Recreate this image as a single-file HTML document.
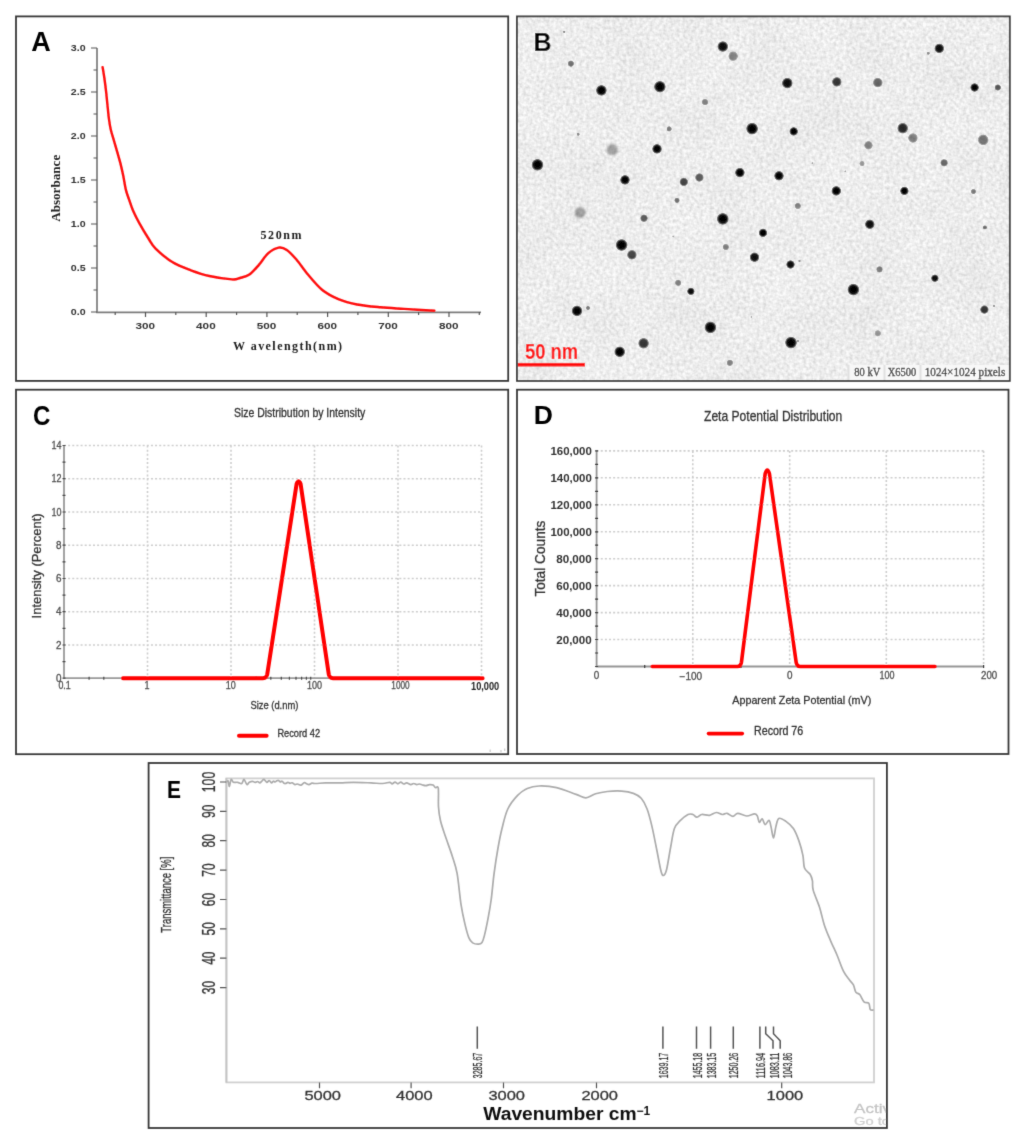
<!DOCTYPE html>
<html><head><meta charset="utf-8"><title>Figure</title>
<style>
html,body{margin:0;padding:0;background:#fff;width:1025px;height:1137px;overflow:hidden}
svg{display:block}
</style></head><body>
<svg width="1025" height="1137" viewBox="0 0 1025 1137" font-family="'Liberation Sans',sans-serif">
<defs><filter id="gb" x="0" y="0" width="1025" height="1137" filterUnits="userSpaceOnUse"><feConvolveMatrix order="3" kernelMatrix="0.0114 0.0845 0.0114 0.0845 0.6164 0.0845 0.0114 0.0845 0.0114" edgeMode="duplicate" preserveAlpha="false"/></filter></defs>
<rect width="1025" height="1137" fill="#fff"/>
<g filter="url(#gb)">
<text x="31.3" y="51" font-size="27" fill="#000" text-anchor="start" font-weight="bold" font-family='"Liberation Sans",sans-serif' >A</text>
<path d="M97,48 V312.3 H481" fill="none" stroke="#7c7c7c" stroke-width="1.7"/>
<path d="M91,48 H97 M91,92 H97 M91,136 H97 M91,180 H97 M91,224 H97 M91,268 H97 M91,312 H97 M93.5,70 H97 M93.5,114 H97 M93.5,158 H97 M93.5,202 H97 M93.5,246 H97 M93.5,290 H97 M145.5,312 V317 M206.2,312 V317 M266.9,312 V317 M327.6,312 V317 M388.3,312 V317 M449.0,312 V317 M115.2,312 V315 M175.8,312 V315 M236.6,312 V315 M297.2,312 V315 M357.9,312 V315 M418.6,312 V315 M479.3,312 V315 " stroke="#555" stroke-width="1.2"/>
<text x="85.6" y="51.4" font-size="9.2" fill="#333" text-anchor="end" font-weight="bold" textLength="14.8" lengthAdjust="spacingAndGlyphs" font-family='"Liberation Sans",sans-serif' >3.0</text>
<text x="85.6" y="95.4" font-size="9.2" fill="#333" text-anchor="end" font-weight="bold" textLength="14.8" lengthAdjust="spacingAndGlyphs" font-family='"Liberation Sans",sans-serif' >2.5</text>
<text x="85.6" y="139.4" font-size="9.2" fill="#333" text-anchor="end" font-weight="bold" textLength="14.8" lengthAdjust="spacingAndGlyphs" font-family='"Liberation Sans",sans-serif' >2.0</text>
<text x="85.6" y="183.4" font-size="9.2" fill="#333" text-anchor="end" font-weight="bold" textLength="14.8" lengthAdjust="spacingAndGlyphs" font-family='"Liberation Sans",sans-serif' >1.5</text>
<text x="85.6" y="227.4" font-size="9.2" fill="#333" text-anchor="end" font-weight="bold" textLength="14.8" lengthAdjust="spacingAndGlyphs" font-family='"Liberation Sans",sans-serif' >1.0</text>
<text x="85.6" y="271.4" font-size="9.2" fill="#333" text-anchor="end" font-weight="bold" textLength="14.8" lengthAdjust="spacingAndGlyphs" font-family='"Liberation Sans",sans-serif' >0.5</text>
<text x="85.6" y="315.4" font-size="9.2" fill="#333" text-anchor="end" font-weight="bold" textLength="14.8" lengthAdjust="spacingAndGlyphs" font-family='"Liberation Sans",sans-serif' >0.0</text>
<text x="145.2" y="328.9" font-size="9.6" fill="#333" text-anchor="middle" font-weight="bold" textLength="19.6" lengthAdjust="spacingAndGlyphs" font-family='"Liberation Sans",sans-serif' >300</text>
<text x="205.89999999999998" y="328.9" font-size="9.6" fill="#333" text-anchor="middle" font-weight="bold" textLength="19.6" lengthAdjust="spacingAndGlyphs" font-family='"Liberation Sans",sans-serif' >400</text>
<text x="266.59999999999997" y="328.9" font-size="9.6" fill="#333" text-anchor="middle" font-weight="bold" textLength="19.6" lengthAdjust="spacingAndGlyphs" font-family='"Liberation Sans",sans-serif' >500</text>
<text x="327.3" y="328.9" font-size="9.6" fill="#333" text-anchor="middle" font-weight="bold" textLength="19.6" lengthAdjust="spacingAndGlyphs" font-family='"Liberation Sans",sans-serif' >600</text>
<text x="387.99999999999994" y="328.9" font-size="9.6" fill="#333" text-anchor="middle" font-weight="bold" textLength="19.6" lengthAdjust="spacingAndGlyphs" font-family='"Liberation Sans",sans-serif' >700</text>
<text x="448.7" y="328.9" font-size="9.6" fill="#333" text-anchor="middle" font-weight="bold" textLength="19.6" lengthAdjust="spacingAndGlyphs" font-family='"Liberation Sans",sans-serif' >800</text>
<text x="233" y="349.8" font-size="12" fill="#222" text-anchor="start" font-weight="bold" letter-spacing="1.45" font-family='"Liberation Serif",serif' >W avelength(nm)</text>
<text x="60.5" y="221.8" font-size="13" fill="#222" text-anchor="start" font-weight="bold" textLength="67" lengthAdjust="spacingAndGlyphs" transform="rotate(-90 60.5 221.8)" font-family='"Liberation Serif",serif' >Absorbance</text>
<text x="260.5" y="239.2" font-size="12" fill="#222" text-anchor="start" font-weight="bold" letter-spacing="1.6" font-family='"Liberation Serif",serif' >520nm</text>
<path d="M102.60,67.10 C102.92,69.08 103.92,74.90 104.50,79.00 C105.08,83.10 105.62,87.48 106.10,91.70 C106.58,95.92 106.93,99.82 107.40,104.30 C107.87,108.78 108.33,114.37 108.90,118.60 C109.47,122.83 109.95,126.00 110.80,129.70 C111.65,133.40 112.93,137.10 114.00,140.80 C115.07,144.50 116.15,148.22 117.20,151.90 C118.25,155.58 119.30,158.95 120.30,162.90 C121.30,166.85 122.27,171.10 123.20,175.60 C124.13,180.10 124.93,185.93 125.90,189.90 C126.87,193.87 127.82,195.97 129.00,199.40 C130.18,202.83 131.28,206.55 133.00,210.50 C134.72,214.45 136.67,218.35 139.30,223.10 C141.93,227.85 146.08,234.75 148.80,239.00 C151.52,243.25 151.62,244.72 155.60,248.60 C159.58,252.48 166.80,258.68 172.70,262.30 C178.60,265.92 184.90,268.02 191.00,270.30 C197.10,272.58 202.47,274.48 209.30,276.00 C216.13,277.52 226.88,279.07 232.00,279.40 C237.12,279.73 237.10,278.82 240.00,278.00 C242.90,277.18 246.28,276.65 249.40,274.50 C252.52,272.35 255.58,268.62 258.70,265.10 C261.82,261.58 264.78,256.32 268.10,253.40 C271.42,250.48 275.48,248.18 278.60,247.60 C281.72,247.02 283.87,247.95 286.80,249.90 C289.73,251.85 292.68,255.20 296.20,259.30 C299.72,263.40 303.60,269.43 307.90,274.50 C312.20,279.57 316.92,285.60 322.00,289.70 C327.08,293.80 332.55,296.63 338.40,299.10 C344.25,301.57 350.08,303.13 357.10,304.50 C364.12,305.87 372.68,306.57 380.50,307.30 C388.32,308.03 395.02,308.32 404.00,308.90 C412.98,309.48 429.33,310.48 434.40,310.80" fill="none" stroke="#ff0a0a" stroke-width="2.4" stroke-linejoin="round" stroke-linecap="round"/>
<rect x="16" y="16.4" width="492.2" height="364.5" fill="none" stroke="#383838" stroke-width="1.8"/>
<defs><filter id="nz" x="0" y="0" width="100%" height="100%"><feTurbulence type="fractalNoise" baseFrequency="0.3" numOctaves="2" seed="3"/><feColorMatrix type="matrix" values="0.5 0 0 0 0.623  0.5 0 0 0 0.623  0.5 0 0 0 0.623  0 0 0 0 1"/></filter>
<filter id="nz2" x="0" y="0" width="100%" height="100%"><feTurbulence type="fractalNoise" baseFrequency="0.02" numOctaves="2" seed="7"/><feColorMatrix type="matrix" values="1 0 0 0 0  1 0 0 0 0  1 0 0 0 0  0 0 0 0 1"/></filter>
<filter id="bl" x="-20%" y="-20%" width="140%" height="140%"><feGaussianBlur stdDeviation="0.5"/></filter>
<radialGradient id="dg"><stop offset="0" stop-color="#000" stop-opacity="1"/><stop offset="0.65" stop-color="#050505" stop-opacity="0.96"/><stop offset="0.88" stop-color="#111" stop-opacity="0.6"/><stop offset="1" stop-color="#222" stop-opacity="0"/></radialGradient>
</defs>
<rect x="517" y="17" width="492" height="363" filter="url(#nz)"/>
<rect x="517" y="17" width="492" height="363" filter="url(#nz2)" opacity="0.06"/>
<filter id="bl2" x="-50%" y="-50%" width="200%" height="200%"><feGaussianBlur stdDeviation="1.1"/></filter>
<g filter="url(#bl)">
<circle cx="564.3" cy="31.9" r="1.34" fill="url(#dg)" opacity="0.47"/>
<circle cx="570.9" cy="63.6" r="3.36" fill="url(#dg)" opacity="0.53"/>
<circle cx="601.4" cy="90.4" r="5.60" fill="url(#dg)" opacity="1.00"/>
<circle cx="659.9" cy="86.7" r="6.05" fill="url(#dg)" opacity="1.00"/>
<circle cx="722.8" cy="46.5" r="5.60" fill="url(#dg)" opacity="0.95"/>
<circle cx="733.1" cy="56.2" r="5.04" fill="url(#dg)" opacity="0.47"/>
<circle cx="705" cy="102.1" r="3.36" fill="url(#dg)" opacity="0.47"/>
<circle cx="669.2" cy="128.9" r="2.80" fill="url(#dg)" opacity="0.47"/>
<circle cx="578.2" cy="134.3" r="1.68" fill="url(#dg)" opacity="0.42"/>
<circle cx="612.3" cy="149.7" r="5.60" fill="#000" opacity="0.33" filter="url(#bl2)"/>
<circle cx="657" cy="148.9" r="5.04" fill="url(#dg)" opacity="1.00"/>
<circle cx="752.1" cy="128.7" r="6.16" fill="url(#dg)" opacity="1.00"/>
<circle cx="537.5" cy="164.8" r="6.16" fill="url(#dg)" opacity="1.00"/>
<circle cx="625" cy="179.9" r="5.04" fill="url(#dg)" opacity="1.00"/>
<circle cx="683.8" cy="181.9" r="4.48" fill="url(#dg)" opacity="0.73"/>
<circle cx="699.4" cy="177.5" r="4.48" fill="url(#dg)" opacity="0.63"/>
<circle cx="739.9" cy="172.6" r="5.04" fill="url(#dg)" opacity="1.00"/>
<circle cx="939.3" cy="48.4" r="5.04" fill="url(#dg)" opacity="0.95"/>
<circle cx="928.3" cy="53.3" r="1.68" fill="url(#dg)" opacity="0.42"/>
<circle cx="787.3" cy="83.1" r="5.60" fill="url(#dg)" opacity="0.95"/>
<circle cx="836.8" cy="81.9" r="5.04" fill="url(#dg)" opacity="0.79"/>
<circle cx="877.8" cy="82.6" r="5.04" fill="url(#dg)" opacity="0.58"/>
<circle cx="974.6" cy="87.5" r="4.48" fill="url(#dg)" opacity="1.00"/>
<circle cx="997.8" cy="87.5" r="3.36" fill="url(#dg)" opacity="0.63"/>
<circle cx="793.7" cy="131.4" r="4.48" fill="url(#dg)" opacity="1.00"/>
<circle cx="902.7" cy="128.2" r="5.60" fill="url(#dg)" opacity="0.84"/>
<circle cx="912.9" cy="138" r="5.04" fill="url(#dg)" opacity="0.47"/>
<circle cx="983.2" cy="139.9" r="5.60" fill="url(#dg)" opacity="0.53"/>
<circle cx="868.5" cy="145.3" r="4.48" fill="url(#dg)" opacity="0.47"/>
<circle cx="862" cy="163.6" r="2.80" fill="url(#dg)" opacity="0.37"/>
<circle cx="944.1" cy="162.8" r="3.92" fill="url(#dg)" opacity="0.58"/>
<circle cx="812.4" cy="163.1" r="1.12" fill="url(#dg)" opacity="0.32"/>
<circle cx="845.4" cy="171.4" r="1.12" fill="url(#dg)" opacity="0.32"/>
<circle cx="779" cy="175.8" r="5.04" fill="url(#dg)" opacity="1.00"/>
<circle cx="836.3" cy="190.9" r="5.04" fill="url(#dg)" opacity="1.00"/>
<circle cx="904.4" cy="190.9" r="4.48" fill="url(#dg)" opacity="1.00"/>
<circle cx="973.4" cy="191.6" r="2.80" fill="url(#dg)" opacity="0.47"/>
<circle cx="677" cy="200.4" r="2.80" fill="url(#dg)" opacity="0.53"/>
<circle cx="580.1" cy="212.6" r="5.60" fill="#000" opacity="0.33" filter="url(#bl2)"/>
<circle cx="644" cy="218.2" r="3.92" fill="url(#dg)" opacity="0.63"/>
<circle cx="722.8" cy="218.9" r="6.16" fill="url(#dg)" opacity="1.00"/>
<circle cx="763" cy="232.8" r="4.48" fill="url(#dg)" opacity="1.00"/>
<circle cx="621.6" cy="245" r="6.16" fill="url(#dg)" opacity="1.00"/>
<circle cx="631.9" cy="254.8" r="5.04" fill="url(#dg)" opacity="0.73"/>
<circle cx="673.3" cy="236.5" r="1.12" fill="url(#dg)" opacity="0.32"/>
<circle cx="725.8" cy="247" r="3.36" fill="url(#dg)" opacity="0.47"/>
<circle cx="754.5" cy="257.2" r="5.04" fill="url(#dg)" opacity="0.95"/>
<circle cx="678.2" cy="282.8" r="3.36" fill="url(#dg)" opacity="0.47"/>
<circle cx="690.9" cy="291.3" r="3.92" fill="url(#dg)" opacity="0.95"/>
<circle cx="577" cy="310.9" r="5.60" fill="url(#dg)" opacity="1.00"/>
<circle cx="588" cy="308" r="2.24" fill="url(#dg)" opacity="0.47"/>
<circle cx="710.4" cy="327.4" r="6.16" fill="url(#dg)" opacity="1.00"/>
<circle cx="751.4" cy="317" r="1.12" fill="url(#dg)" opacity="0.32"/>
<circle cx="643.6" cy="343.3" r="5.60" fill="url(#dg)" opacity="0.79"/>
<circle cx="619.7" cy="351.8" r="5.60" fill="url(#dg)" opacity="1.00"/>
<circle cx="729.9" cy="362.8" r="3.36" fill="url(#dg)" opacity="0.47"/>
<circle cx="797.8" cy="206" r="3.36" fill="url(#dg)" opacity="0.47"/>
<circle cx="869.8" cy="224.3" r="5.04" fill="url(#dg)" opacity="0.95"/>
<circle cx="984.9" cy="227.4" r="2.24" fill="url(#dg)" opacity="0.53"/>
<circle cx="790.5" cy="264.5" r="4.48" fill="url(#dg)" opacity="0.95"/>
<circle cx="799.5" cy="260.9" r="1.34" fill="url(#dg)" opacity="0.37"/>
<circle cx="879.5" cy="269.4" r="3.36" fill="url(#dg)" opacity="0.47"/>
<circle cx="934.9" cy="278.2" r="3.92" fill="url(#dg)" opacity="0.95"/>
<circle cx="853.4" cy="289.6" r="6.16" fill="url(#dg)" opacity="1.00"/>
<circle cx="984.4" cy="309.6" r="4.48" fill="url(#dg)" opacity="0.79"/>
<circle cx="994.1" cy="306" r="1.34" fill="url(#dg)" opacity="0.37"/>
<circle cx="877.8" cy="333.3" r="3.36" fill="url(#dg)" opacity="0.37"/>
<circle cx="791" cy="342.6" r="6.16" fill="url(#dg)" opacity="1.00"/>
<circle cx="797.8" cy="340.9" r="1.34" fill="url(#dg)" opacity="0.37"/>
</g>
<text x="533.5" y="50.7" font-size="25" fill="#000" text-anchor="start" font-weight="bold" font-family='"Liberation Sans",sans-serif' >B</text>
<rect x="518" y="362.9" width="67" height="3.6" fill="#ff1010"/>
<text x="525" y="358.6" font-size="21.5" fill="#ff1010" text-anchor="start" font-weight="bold" textLength="53.2" lengthAdjust="spacingAndGlyphs" font-family='"Liberation Sans",sans-serif' >50 nm</text>
<rect x="848" y="365" width="161" height="15" fill="#f8f8f8"/>
<path d="M848.5,365 V380 M884.5,365 V380 M920.5,365 V380" stroke="#e0e0e0" stroke-width="2"/>
<text x="854.3" y="376" font-size="11.8" fill="#444" text-anchor="start" textLength="26" lengthAdjust="spacingAndGlyphs" font-family='"Liberation Serif",serif' stroke="#444" stroke-width="0.35">80 kV</text>
<text x="887.8" y="376" font-size="11.8" fill="#444" text-anchor="start" textLength="28.5" lengthAdjust="spacingAndGlyphs" font-family='"Liberation Serif",serif' stroke="#444" stroke-width="0.35">X6500</text>
<text x="924.7" y="376" font-size="11.8" fill="#444" text-anchor="start" textLength="80.6" lengthAdjust="spacingAndGlyphs" font-family='"Liberation Serif",serif' stroke="#444" stroke-width="0.35">1024×1024 pixels</text>
<rect x="517" y="16.4" width="492.79999999999995" height="364.5" fill="none" stroke="#383838" stroke-width="1.8"/>
<text x="33.1" y="425" font-size="28" fill="#000" text-anchor="start" font-weight="bold" textLength="17.4" lengthAdjust="spacingAndGlyphs" font-family='"Liberation Sans",sans-serif' >C</text>
<text x="234" y="417.2" font-size="12" fill="#333" text-anchor="start" textLength="131.3" lengthAdjust="spacingAndGlyphs" stroke="#333" stroke-width="0.3" font-family='"Liberation Sans",sans-serif' >Size Distribution by Intensity</text>
<path d="M64,645.0 H481.8 M64,611.7 H481.8 M64,578.5 H481.8 M64,545.2 H481.8 M64,512.0 H481.8 M64,478.7 H481.8 M64,445.5 H481.8 M147.5,445.5 V678.2 M231.0,445.5 V678.2 M314.5,445.5 V678.2 M398.0,445.5 V678.2 M481.5,445.5 V678.2 " stroke="#cdcdcd" stroke-width="1.6" stroke-dasharray="2 2.14"/>
<path d="M64,445.5 V678.2 H482" fill="none" stroke="#9a9a9a" stroke-width="1.8"/>
<path d="M62.5,678.2 H65.5 M62.5,661.6 H65.5 M62.5,645.0 H65.5 M62.5,628.3 H65.5 M62.5,611.7 H65.5 M62.5,595.1 H65.5 M62.5,578.5 H65.5 M62.5,561.9 H65.5 M62.5,545.2 H65.5 M62.5,528.6 H65.5 M62.5,512.0 H65.5 M62.5,495.4 H65.5 M62.5,478.7 H65.5 M62.5,462.1 H65.5 M62.5,445.5 H65.5 M89.1,676.7 V679.7 M103.8,676.7 V679.7 M256.1,676.7 V679.7 M270.8,676.7 V679.7 M281.3,676.7 V679.7 M289.4,676.7 V679.7 M296.0,676.7 V679.7 M301.6,676.7 V679.7 M306.4,676.7 V679.7 M310.7,676.7 V679.7 " stroke="#444" stroke-width="1.2"/>
<text x="61.5" y="681.8000000000001" font-size="10" fill="#505050" text-anchor="end" textLength="5.5" lengthAdjust="spacingAndGlyphs" stroke="#505050" stroke-width="0.3" font-family='"Liberation Sans",sans-serif' >0</text>
<text x="61.5" y="648.5571428571429" font-size="10" fill="#505050" text-anchor="end" textLength="5.5" lengthAdjust="spacingAndGlyphs" stroke="#505050" stroke-width="0.3" font-family='"Liberation Sans",sans-serif' >2</text>
<text x="61.5" y="615.3142857142858" font-size="10" fill="#505050" text-anchor="end" textLength="5.5" lengthAdjust="spacingAndGlyphs" stroke="#505050" stroke-width="0.3" font-family='"Liberation Sans",sans-serif' >4</text>
<text x="61.5" y="582.0714285714287" font-size="10" fill="#505050" text-anchor="end" textLength="5.5" lengthAdjust="spacingAndGlyphs" stroke="#505050" stroke-width="0.3" font-family='"Liberation Sans",sans-serif' >6</text>
<text x="61.5" y="548.8285714285715" font-size="10" fill="#505050" text-anchor="end" textLength="5.5" lengthAdjust="spacingAndGlyphs" stroke="#505050" stroke-width="0.3" font-family='"Liberation Sans",sans-serif' >8</text>
<text x="61.5" y="515.5857142857143" font-size="10" fill="#505050" text-anchor="end" textLength="10" lengthAdjust="spacingAndGlyphs" stroke="#505050" stroke-width="0.3" font-family='"Liberation Sans",sans-serif' >10</text>
<text x="61.5" y="482.34285714285716" font-size="10" fill="#505050" text-anchor="end" textLength="10" lengthAdjust="spacingAndGlyphs" stroke="#505050" stroke-width="0.3" font-family='"Liberation Sans",sans-serif' >12</text>
<text x="61.5" y="449.1" font-size="10" fill="#505050" text-anchor="end" textLength="10" lengthAdjust="spacingAndGlyphs" stroke="#505050" stroke-width="0.3" font-family='"Liberation Sans",sans-serif' >14</text>
<text x="64.6" y="688.9" font-size="10" fill="#505050" text-anchor="middle" textLength="12.3" lengthAdjust="spacingAndGlyphs" stroke="#505050" stroke-width="0.3" font-family='"Liberation Sans",sans-serif' >0.1</text>
<text x="147" y="688.9" font-size="10" fill="#505050" text-anchor="middle" textLength="5" lengthAdjust="spacingAndGlyphs" stroke="#505050" stroke-width="0.3" font-family='"Liberation Sans",sans-serif' >1</text>
<text x="230.8" y="688.9" font-size="10" fill="#505050" text-anchor="middle" textLength="10" lengthAdjust="spacingAndGlyphs" stroke="#505050" stroke-width="0.3" font-family='"Liberation Sans",sans-serif' >10</text>
<text x="314.4" y="688.9" font-size="10" fill="#505050" text-anchor="middle" textLength="15" lengthAdjust="spacingAndGlyphs" stroke="#505050" stroke-width="0.3" font-family='"Liberation Sans",sans-serif' >100</text>
<text x="400.5" y="688.9" font-size="10" fill="#505050" text-anchor="middle" textLength="18.3" lengthAdjust="spacingAndGlyphs" stroke="#505050" stroke-width="0.3" font-family='"Liberation Sans",sans-serif' >1000</text>
<text x="471" y="689.5" font-size="10" fill="#222" text-anchor="start" font-weight="bold" textLength="28.2" lengthAdjust="spacingAndGlyphs" font-family='"Liberation Sans",sans-serif' >10,000</text>
<path d="M123,678.2 H263 Q266.5,678.2 267.2,674.5 L296.6,484 Q298.6,478.6 300.6,484 L328.8,674.5 Q329.5,678.2 333,678.2 H482.6" fill="none" stroke="#ff0000" stroke-width="4" stroke-linejoin="round" stroke-linecap="round"/>
<text x="250.4" y="708.7" font-size="10.5" fill="#333" text-anchor="start" textLength="48" lengthAdjust="spacingAndGlyphs" stroke="#333" stroke-width="0.3" font-family='"Liberation Sans",sans-serif' >Size (d.nm)</text>
<text x="41" y="618.4" font-size="12.5" fill="#333" text-anchor="start" textLength="105" lengthAdjust="spacingAndGlyphs" transform="rotate(-90 41 618.4)" stroke="#333" stroke-width="0.3" font-family='"Liberation Sans",sans-serif' >Intensity (Percent)</text>
<path d="M239,735.7 H266.6" stroke="#ff0000" stroke-width="4" stroke-linecap="round"/>
<text x="277.4" y="736.8" font-size="10.5" fill="#333" text-anchor="start" textLength="42.7" lengthAdjust="spacingAndGlyphs" stroke="#333" stroke-width="0.3" font-family='"Liberation Sans",sans-serif' >Record 42</text>
<path d="M490.2,749.5 V752 M501,750 V752.5 M504.7,748.5 V751" stroke="#cfcfcf" stroke-width="1.3"/>
<rect x="16" y="389.7" width="492.2" height="364.50000000000006" fill="none" stroke="#383838" stroke-width="1.8"/>
<text x="533.8" y="423.6" font-size="26.5" fill="#000" text-anchor="start" font-weight="bold" font-family='"Liberation Sans",sans-serif' >D</text>
<text x="704" y="421.1" font-size="14.5" fill="#333" text-anchor="start" textLength="138.3" lengthAdjust="spacingAndGlyphs" stroke="#333" stroke-width="0.3" font-family='"Liberation Sans",sans-serif' >Zeta Potential Distribution</text>
<path d="M596.6,639.5 H983.6 M596.6,612.6 H983.6 M596.6,585.6 H983.6 M596.6,558.7 H983.6 M596.6,531.8 H983.6 M596.6,504.8 H983.6 M596.6,477.8 H983.6 M596.6,450.9 H983.6 M692.8,450.9 V666.5 M789.7,450.9 V666.5 M886.3,450.9 V666.5 M983.6,450.9 V666.5 " stroke="#cdcdcd" stroke-width="1.6" stroke-dasharray="2 2.14"/>
<path d="M596.6,450.9 V666.5 H983.6" fill="none" stroke="#959595" stroke-width="1.8"/>
<path d="M595.1,666.5 H598.1 M595.1,653.0 H598.1 M595.1,639.5 H598.1 M595.1,626.1 H598.1 M595.1,612.6 H598.1 M595.1,599.1 H598.1 M595.1,585.6 H598.1 M595.1,572.2 H598.1 M595.1,558.7 H598.1 M595.1,545.2 H598.1 M595.1,531.8 H598.1 M595.1,518.3 H598.1 M595.1,504.8 H598.1 M595.1,491.3 H598.1 M595.1,477.8 H598.1 M595.1,464.4 H598.1 M595.1,450.9 H598.1 M644.7,665.0 V668.0 M741,665.0 V668.0 M838,665.0 V668.0 M935,665.0 V668.0 M983.6,665.0 V668.0 " stroke="#333" stroke-width="1.2"/>
<text x="591.8" y="643.55" font-size="11.5" fill="#333" text-anchor="end" font-weight="bold" textLength="35.6" lengthAdjust="spacingAndGlyphs" font-family='"Liberation Sans",sans-serif' >20,000</text>
<text x="591.8" y="616.6" font-size="11.5" fill="#333" text-anchor="end" font-weight="bold" textLength="35.6" lengthAdjust="spacingAndGlyphs" font-family='"Liberation Sans",sans-serif' >40,000</text>
<text x="591.8" y="589.65" font-size="11.5" fill="#333" text-anchor="end" font-weight="bold" textLength="35.6" lengthAdjust="spacingAndGlyphs" font-family='"Liberation Sans",sans-serif' >60,000</text>
<text x="591.8" y="562.7" font-size="11.5" fill="#333" text-anchor="end" font-weight="bold" textLength="35.6" lengthAdjust="spacingAndGlyphs" font-family='"Liberation Sans",sans-serif' >80,000</text>
<text x="591.8" y="535.75" font-size="11.5" fill="#333" text-anchor="end" font-weight="bold" textLength="41.4" lengthAdjust="spacingAndGlyphs" font-family='"Liberation Sans",sans-serif' >100,000</text>
<text x="591.8" y="508.79999999999995" font-size="11.5" fill="#333" text-anchor="end" font-weight="bold" textLength="41.4" lengthAdjust="spacingAndGlyphs" font-family='"Liberation Sans",sans-serif' >120,000</text>
<text x="591.8" y="481.84999999999997" font-size="11.5" fill="#333" text-anchor="end" font-weight="bold" textLength="41.4" lengthAdjust="spacingAndGlyphs" font-family='"Liberation Sans",sans-serif' >140,000</text>
<text x="591.8" y="454.9" font-size="11.5" fill="#333" text-anchor="end" font-weight="bold" textLength="41.4" lengthAdjust="spacingAndGlyphs" font-family='"Liberation Sans",sans-serif' >160,000</text>
<text x="596.6" y="679" font-size="10" fill="#505050" text-anchor="middle" textLength="5.5" lengthAdjust="spacingAndGlyphs" stroke="#505050" stroke-width="0.3" font-family='"Liberation Sans",sans-serif' >0</text>
<text x="690.8" y="680" font-size="10" fill="#505050" text-anchor="middle" textLength="22.5" lengthAdjust="spacingAndGlyphs" stroke="#505050" stroke-width="0.3" font-family='"Liberation Sans",sans-serif' >−100</text>
<text x="789.7" y="679.3" font-size="10" fill="#505050" text-anchor="middle" textLength="5.5" lengthAdjust="spacingAndGlyphs" stroke="#505050" stroke-width="0.3" font-family='"Liberation Sans",sans-serif' >0</text>
<text x="886.9" y="679.3" font-size="10" fill="#505050" text-anchor="middle" textLength="15" lengthAdjust="spacingAndGlyphs" stroke="#505050" stroke-width="0.3" font-family='"Liberation Sans",sans-serif' >100</text>
<text x="981" y="679.3" font-size="10" fill="#505050" text-anchor="start" textLength="16.2" lengthAdjust="spacingAndGlyphs" stroke="#505050" stroke-width="0.3" font-family='"Liberation Sans",sans-serif' >200</text>
<path d="M652.2,666.5 H737.5 Q740.8,666.5 741.4,662.5 L765.2,473.5 Q767.3,466.5 769.4,473.5 L796.2,662.5 Q796.8,666.5 800,666.5 H935" fill="none" stroke="#ff0000" stroke-width="3.6" stroke-linejoin="round" stroke-linecap="round"/>
<text x="545.2" y="596.6" font-size="14.3" fill="#333" text-anchor="start" textLength="76" lengthAdjust="spacingAndGlyphs" transform="rotate(-90 545.2 596.6)" stroke="#333" stroke-width="0.3" font-family='"Liberation Sans",sans-serif' >Total Counts</text>
<text x="732.3" y="703.6" font-size="11.5" fill="#333" text-anchor="start" textLength="139" lengthAdjust="spacingAndGlyphs" stroke="#333" stroke-width="0.3" font-family='"Liberation Sans",sans-serif' >Apparent Zeta Potential (mV)</text>
<path d="M708.5,733.6 H742.3" stroke="#ff0000" stroke-width="3.6" stroke-linecap="round"/>
<text x="754" y="734.7" font-size="12" fill="#333" text-anchor="start" textLength="49.2" lengthAdjust="spacingAndGlyphs" stroke="#333" stroke-width="0.3" font-family='"Liberation Sans",sans-serif' >Record 76</text>
<rect x="517" y="389.7" width="491.5" height="364.3" fill="none" stroke="#383838" stroke-width="1.8"/>
<text x="167.1" y="797.5" font-size="24" fill="#000" text-anchor="start" font-weight="bold" textLength="14" lengthAdjust="spacingAndGlyphs" font-family='"Liberation Sans",sans-serif' >E</text>
<rect x="226.4" y="778.4" width="647.6" height="304" fill="none" stroke="#d0d0d0" stroke-width="1.8"/>
<path d="M226.4,778 V1082.4" stroke="#c4c4c4" stroke-width="1.8"/>
<path d="M220,782.0 H226.4 M220,811.4 H226.4 M220,840.7 H226.4 M220,870.1 H226.4 M220,899.5 H226.4 M220,928.9 H226.4 M220,958.2 H226.4 M220,987.6 H226.4 M319.5,1082.4 V1088.2 M411.1,1082.4 V1088.2 M503.5,1082.4 V1088.2 M596.5,1082.4 V1088.2 M781.7,1082.4 V1088.2 " stroke="#555" stroke-width="1.2"/>
<text x="215.2" y="782.0" font-size="18.5" fill="#333" text-anchor="middle" textLength="20.5" lengthAdjust="spacingAndGlyphs" transform="rotate(-90 215.2 782.0)" stroke="#333" stroke-width="0.3" font-family='"Liberation Sans",sans-serif' >100</text>
<text x="215.2" y="811.37" font-size="18.5" fill="#333" text-anchor="middle" textLength="13.3" lengthAdjust="spacingAndGlyphs" transform="rotate(-90 215.2 811.37)" stroke="#333" stroke-width="0.3" font-family='"Liberation Sans",sans-serif' >90</text>
<text x="215.2" y="840.74" font-size="18.5" fill="#333" text-anchor="middle" textLength="13.3" lengthAdjust="spacingAndGlyphs" transform="rotate(-90 215.2 840.74)" stroke="#333" stroke-width="0.3" font-family='"Liberation Sans",sans-serif' >80</text>
<text x="215.2" y="870.11" font-size="18.5" fill="#333" text-anchor="middle" textLength="13.3" lengthAdjust="spacingAndGlyphs" transform="rotate(-90 215.2 870.11)" stroke="#333" stroke-width="0.3" font-family='"Liberation Sans",sans-serif' >70</text>
<text x="215.2" y="899.48" font-size="18.5" fill="#333" text-anchor="middle" textLength="13.3" lengthAdjust="spacingAndGlyphs" transform="rotate(-90 215.2 899.48)" stroke="#333" stroke-width="0.3" font-family='"Liberation Sans",sans-serif' >60</text>
<text x="215.2" y="928.85" font-size="18.5" fill="#333" text-anchor="middle" textLength="13.3" lengthAdjust="spacingAndGlyphs" transform="rotate(-90 215.2 928.85)" stroke="#333" stroke-width="0.3" font-family='"Liberation Sans",sans-serif' >50</text>
<text x="215.2" y="958.22" font-size="18.5" fill="#333" text-anchor="middle" textLength="13.3" lengthAdjust="spacingAndGlyphs" transform="rotate(-90 215.2 958.22)" stroke="#333" stroke-width="0.3" font-family='"Liberation Sans",sans-serif' >40</text>
<text x="215.2" y="987.59" font-size="18.5" fill="#333" text-anchor="middle" textLength="13.3" lengthAdjust="spacingAndGlyphs" transform="rotate(-90 215.2 987.59)" stroke="#333" stroke-width="0.3" font-family='"Liberation Sans",sans-serif' >30</text>
<text x="322.7" y="1099.9" font-size="13.5" fill="#333" text-anchor="middle" textLength="36.6" lengthAdjust="spacingAndGlyphs" stroke="#333" stroke-width="0.3" font-family='"Liberation Sans",sans-serif' >5000</text>
<text x="414.3" y="1099.9" font-size="13.5" fill="#333" text-anchor="middle" textLength="36.6" lengthAdjust="spacingAndGlyphs" stroke="#333" stroke-width="0.3" font-family='"Liberation Sans",sans-serif' >4000</text>
<text x="506.7" y="1099.9" font-size="13.5" fill="#333" text-anchor="middle" textLength="36.6" lengthAdjust="spacingAndGlyphs" stroke="#333" stroke-width="0.3" font-family='"Liberation Sans",sans-serif' >3000</text>
<text x="599.7" y="1099.9" font-size="13.5" fill="#333" text-anchor="middle" textLength="36.6" lengthAdjust="spacingAndGlyphs" stroke="#333" stroke-width="0.3" font-family='"Liberation Sans",sans-serif' >2000</text>
<text x="784.9000000000001" y="1099.9" font-size="13.5" fill="#333" text-anchor="middle" textLength="36.6" lengthAdjust="spacingAndGlyphs" stroke="#333" stroke-width="0.3" font-family='"Liberation Sans",sans-serif' >1000</text>
<text x="170.6" y="932.7" font-size="14.8" fill="#333" text-anchor="start" textLength="76" lengthAdjust="spacingAndGlyphs" transform="rotate(-90 170.6 932.7)" stroke="#333" stroke-width="0.3" font-family='"Liberation Sans",sans-serif' >Transmittance [%]</text>
<text x="483.2" y="1120.3" font-size="18.9" fill="#111" text-anchor="start" font-weight="bold" textLength="153.5" lengthAdjust="spacingAndGlyphs" font-family='"Liberation Sans",sans-serif' >Wavenumber cm</text>
<text x="636.6" y="1114.6" font-size="12" fill="#111" text-anchor="start" font-weight="bold" textLength="13.6" lengthAdjust="spacingAndGlyphs" font-family='"Liberation Sans",sans-serif' >−1</text>
<path d="M477.3,1026.5 V1048.8 M662.9,1026.5 V1048.8 M696.5,1026.5 V1048.8 M710.6,1026.5 V1048.8 M733.3,1026.5 V1048.8 M759.9,1026.5 V1048.8 M765.7,1026.5 V1033.7 L773,1040.8 V1048.8 M773.5,1026.5 V1033.7 L780.2,1040.8 V1048.8" fill="none" stroke="#555" stroke-width="1.5"/>
<text x="482.4" y="1078.2" font-size="12.2" fill="#333" text-anchor="start" textLength="25.4" lengthAdjust="spacingAndGlyphs" transform="rotate(-90 482.4 1078.2)" stroke="#333" stroke-width="0.3" font-family='"Liberation Sans",sans-serif' >3285.67</text>
<text x="667.8" y="1078.2" font-size="12.2" fill="#333" text-anchor="start" textLength="25.4" lengthAdjust="spacingAndGlyphs" transform="rotate(-90 667.8 1078.2)" stroke="#333" stroke-width="0.3" font-family='"Liberation Sans",sans-serif' >1639.17</text>
<text x="702.1999999999999" y="1078.2" font-size="12.2" fill="#333" text-anchor="start" textLength="25.4" lengthAdjust="spacingAndGlyphs" transform="rotate(-90 702.1999999999999 1078.2)" stroke="#333" stroke-width="0.3" font-family='"Liberation Sans",sans-serif' >1455.18</text>
<text x="716.1999999999999" y="1078.2" font-size="12.2" fill="#333" text-anchor="start" textLength="25.4" lengthAdjust="spacingAndGlyphs" transform="rotate(-90 716.1999999999999 1078.2)" stroke="#333" stroke-width="0.3" font-family='"Liberation Sans",sans-serif' >1383.15</text>
<text x="738.1" y="1078.2" font-size="12.2" fill="#333" text-anchor="start" textLength="25.4" lengthAdjust="spacingAndGlyphs" transform="rotate(-90 738.1 1078.2)" stroke="#333" stroke-width="0.3" font-family='"Liberation Sans",sans-serif' >1250.26</text>
<text x="765.4" y="1078.2" font-size="12.2" fill="#333" text-anchor="start" textLength="25.4" lengthAdjust="spacingAndGlyphs" transform="rotate(-90 765.4 1078.2)" stroke="#333" stroke-width="0.3" font-family='"Liberation Sans",sans-serif' >1116.94</text>
<text x="778.6" y="1078.2" font-size="12.2" fill="#333" text-anchor="start" textLength="25.4" lengthAdjust="spacingAndGlyphs" transform="rotate(-90 778.6 1078.2)" stroke="#333" stroke-width="0.3" font-family='"Liberation Sans",sans-serif' >1083.11</text>
<text x="792.4" y="1078.2" font-size="12.2" fill="#333" text-anchor="start" textLength="25.4" lengthAdjust="spacingAndGlyphs" transform="rotate(-90 792.4 1078.2)" stroke="#333" stroke-width="0.3" font-family='"Liberation Sans",sans-serif' >1043.86</text>
<path d="M227.00,781.70 C227.20,781.60 227.80,780.32 228.20,781.10 C228.60,781.88 228.92,786.68 229.40,786.40 C229.88,786.12 230.42,780.08 231.10,779.40 C231.78,778.72 232.42,781.82 233.50,782.30 C234.58,782.78 236.23,782.10 237.60,782.30 C238.97,782.50 240.63,783.98 241.70,783.50 C242.77,783.02 243.13,779.22 244.00,779.40 C244.87,779.58 246.02,784.12 246.90,784.60 C247.78,785.08 248.37,782.85 249.30,782.30 C250.23,781.75 251.53,781.28 252.50,781.30 C253.47,781.32 254.27,782.37 255.10,782.40 C255.93,782.43 256.72,781.42 257.50,781.50 C258.28,781.58 259.08,782.95 259.80,782.90 C260.52,782.85 261.12,781.78 261.80,781.20 C262.48,780.62 263.07,779.22 263.90,779.40 C264.73,779.58 265.92,782.12 266.80,782.30 C267.68,782.48 268.42,780.40 269.20,780.50 C269.98,780.60 270.82,782.78 271.50,782.90 C272.18,783.02 272.72,781.37 273.30,781.20 C273.88,781.03 274.42,781.97 275.00,781.90 C275.58,781.83 276.22,781.03 276.80,780.80 C277.38,780.57 277.92,780.32 278.50,780.50 C279.08,780.68 279.70,781.78 280.30,781.90 C280.90,782.02 281.48,780.98 282.10,781.20 C282.72,781.42 283.42,782.82 284.00,783.20 C284.58,783.58 284.95,783.65 285.60,783.50 C286.25,783.35 287.17,782.33 287.90,782.30 C288.63,782.27 289.28,783.22 290.00,783.30 C290.72,783.38 291.38,782.58 292.20,782.80 C293.02,783.02 294.02,784.40 294.90,784.60 C295.78,784.80 296.52,783.90 297.50,784.00 C298.48,784.10 299.67,785.43 300.80,785.20 C301.93,784.97 303.35,782.83 304.30,782.60 C305.25,782.37 305.72,783.47 306.50,783.80 C307.28,784.13 308.08,784.70 309.00,784.60 C309.92,784.50 310.83,783.38 312.00,783.20 C313.17,783.02 313.77,783.55 316.00,783.50 C318.23,783.45 321.40,783.00 325.40,782.90 C329.40,782.80 335.33,783.00 340.00,782.90 C344.67,782.80 348.23,782.30 353.40,782.30 C358.57,782.30 366.12,782.70 371.00,782.90 C375.88,783.10 379.58,783.60 382.70,783.50 C385.82,783.40 388.13,782.25 389.70,782.30 C391.27,782.35 391.22,783.83 392.10,783.80 C392.98,783.77 394.03,782.10 395.00,782.10 C395.97,782.10 396.93,783.80 397.90,783.80 C398.87,783.80 399.82,782.07 400.80,782.10 C401.78,782.13 402.82,783.87 403.80,784.00 C404.78,784.13 405.53,782.80 406.70,782.90 C407.87,783.00 409.63,784.50 410.80,784.60 C411.97,784.70 412.72,783.50 413.70,783.50 C414.68,783.50 415.72,784.52 416.70,784.60 C417.68,784.68 418.63,783.93 419.60,784.00 C420.57,784.07 421.43,784.73 422.50,785.00 C423.57,785.27 424.83,785.67 426.00,785.60 C427.17,785.53 428.33,784.70 429.50,784.60 C430.67,784.50 432.02,784.50 433.00,785.00 C433.98,785.50 434.52,787.07 435.40,787.60 C436.28,788.13 437.78,784.97 438.30,788.20 C438.82,791.43 438.13,801.58 438.50,807.00 C438.87,812.42 439.35,815.82 440.50,820.70 C441.65,825.58 443.45,830.43 445.40,836.30 C447.35,842.17 450.25,849.72 452.20,855.90 C454.15,862.08 455.63,865.32 457.10,873.40 C458.57,881.48 459.70,895.98 461.00,904.40 C462.30,912.82 463.60,918.37 464.90,923.90 C466.20,929.43 467.50,934.43 468.80,937.60 C470.10,940.77 471.08,941.80 472.70,942.90 C474.32,944.00 476.95,944.28 478.50,944.20 C480.05,944.12 481.02,943.83 482.00,942.40 C482.98,940.97 483.35,939.82 484.40,935.60 C485.45,931.38 487.17,923.12 488.30,917.10 C489.43,911.08 490.23,906.78 491.20,899.50 C492.17,892.22 492.97,881.98 494.10,873.40 C495.23,864.82 496.68,855.48 498.00,848.00 C499.32,840.52 500.37,835.00 502.00,828.50 C503.63,822.00 505.20,814.52 507.80,809.00 C510.40,803.48 514.35,798.82 517.60,795.40 C520.85,791.98 523.73,790.07 527.30,788.50 C530.87,786.93 534.12,786.15 539.00,786.00 C543.88,785.85 550.42,786.20 556.60,787.60 C562.78,789.00 571.22,792.68 576.10,794.40 C580.98,796.12 582.65,798.00 585.90,797.90 C589.15,797.80 592.03,794.87 595.60,793.80 C599.17,792.73 602.95,791.95 607.30,791.50 C611.65,791.05 617.35,790.78 621.70,791.10 C626.05,791.42 630.15,792.20 633.40,793.40 C636.65,794.60 638.92,795.70 641.20,798.30 C643.48,800.90 645.30,804.28 647.10,809.00 C648.90,813.72 650.38,819.77 652.00,826.60 C653.62,833.43 655.28,842.52 656.80,850.00 C658.32,857.48 659.95,867.27 661.10,871.50 C662.25,875.73 662.78,875.73 663.70,875.40 C664.62,875.07 665.47,874.07 666.60,869.50 C667.73,864.93 669.20,854.83 670.50,848.00 C671.80,841.17 672.78,833.05 674.40,828.50 C676.02,823.95 677.93,823.03 680.20,820.70 C682.47,818.37 685.88,815.53 688.00,814.50 C690.12,813.47 691.43,814.05 692.90,814.50 C694.37,814.95 695.33,817.20 696.80,817.20 C698.27,817.20 699.58,814.82 701.70,814.50 C703.82,814.18 707.07,815.63 709.50,815.30 C711.93,814.97 714.18,812.63 716.30,812.50 C718.42,812.37 720.40,814.37 722.20,814.50 C724.00,814.63 725.32,812.98 727.10,813.30 C728.88,813.62 731.12,816.40 732.90,816.40 C734.68,816.40 735.52,813.37 737.80,813.30 C740.08,813.23 743.83,815.90 746.60,816.00 C749.37,816.10 752.62,813.92 754.40,813.90 C756.18,813.88 756.48,814.50 757.30,815.90 C758.12,817.30 758.48,821.82 759.30,822.30 C760.12,822.78 761.23,818.42 762.20,818.80 C763.17,819.18 763.97,824.35 765.10,824.60 C766.23,824.85 768.02,819.97 769.00,820.30 C769.98,820.63 770.25,823.67 771.00,826.60 C771.75,829.53 772.68,837.90 773.50,837.90 C774.32,837.90 775.02,829.85 775.90,826.60 C776.78,823.35 777.18,819.32 778.80,818.40 C780.42,817.48 783.17,819.42 785.60,821.10 C788.03,822.78 791.17,825.17 793.40,828.50 C795.63,831.83 797.42,836.63 799.00,841.10 C800.58,845.57 801.98,850.82 802.90,855.30 C803.82,859.78 803.30,864.83 804.50,868.00 C805.70,871.17 808.78,872.20 810.10,874.30 C811.42,876.40 811.88,877.97 812.40,880.60 C812.92,883.23 812.00,885.62 813.20,890.10 C814.40,894.58 817.75,901.70 819.60,907.50 C821.45,913.30 822.47,919.35 824.30,924.90 C826.13,930.45 828.48,935.78 830.60,940.80 C832.72,945.82 834.88,950.00 837.00,955.00 C839.12,960.00 841.22,966.63 843.30,970.80 C845.38,974.97 847.82,977.67 849.50,980.00 C851.18,982.33 852.35,982.78 853.40,984.80 C854.45,986.82 854.75,990.48 855.80,992.10 C856.85,993.72 858.33,992.88 859.70,994.50 C861.07,996.12 862.48,1000.35 864.00,1001.80 C865.52,1003.25 867.75,1001.92 868.80,1003.20 C869.85,1004.48 869.48,1008.37 870.30,1009.50 C871.12,1010.63 873.13,1009.92 873.70,1010.00" fill="none" stroke="#ababab" stroke-width="1.7" stroke-linejoin="round"/>
<clipPath id="wm"><rect x="840" y="1090" width="46" height="37"/></clipPath>
<g clip-path="url(#wm)">
<text x="854" y="1113.3" font-size="13.5" fill="#c4c4c4" text-anchor="start" textLength="37" lengthAdjust="spacingAndGlyphs" stroke="#c4c4c4" stroke-width="0.3" font-family='"Liberation Sans",sans-serif' >Activ</text>
<text x="854" y="1125" font-size="11" fill="#d0d0d0" text-anchor="start" textLength="36" lengthAdjust="spacingAndGlyphs" stroke="#d0d0d0" stroke-width="0.3" font-family='"Liberation Sans",sans-serif' >Go to</text>
</g>
<rect x="148.6" y="763" width="738.3" height="365" fill="none" stroke="#383838" stroke-width="1.8"/>
</g>
</svg>
</body></html>
